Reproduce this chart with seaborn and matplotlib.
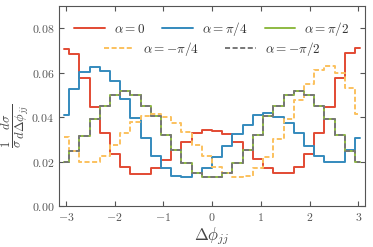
import numpy as np
import matplotlib
matplotlib.use('Agg')
import matplotlib.pyplot as plt
import seaborn as sns

# bin layout: 30 bins over [-pi, pi]
n_bins = 30
edges = np.linspace(-np.pi, np.pi, n_bins + 1)
centers = 0.5 * (edges[:-1] + edges[1:])

# normalised distributions
alpha_0 = [0.0708, 0.0686, 0.0576, 0.0445, 0.0328, 0.0235, 0.0177, 0.0144, 0.0144, 0.0170,
           0.0207, 0.0252, 0.0290, 0.0327, 0.0342, 0.0337, 0.0324, 0.0290, 0.0252, 0.0210,
           0.0170, 0.0150, 0.0148, 0.0177, 0.0233, 0.0328, 0.0444, 0.0576, 0.0689, 0.0711]
alpha_pi4 = [0.0408, 0.0526, 0.0602, 0.0624, 0.0606, 0.0561, 0.0483, 0.0396, 0.0305, 0.0226,
             0.0170, 0.0137, 0.0129, 0.0150, 0.0172, 0.0222, 0.0272, 0.0325, 0.0365, 0.0410,
             0.0420, 0.0400, 0.0375, 0.0328, 0.0272, 0.0225, 0.0197, 0.0197, 0.0250, 0.0307]
alpha_pi2 = [0.0196, 0.0248, 0.0316, 0.0393, 0.0451, 0.0498, 0.0516, 0.0500, 0.0451, 0.0403,
             0.0320, 0.0250, 0.0195, 0.0147, 0.0130, 0.0130, 0.0147, 0.0195, 0.0252, 0.0320,
             0.0403, 0.0451, 0.0500, 0.0516, 0.0500, 0.0451, 0.0393, 0.0320, 0.0248, 0.0196]
alpha_mpi4 = [0.0310, 0.0248, 0.0196, 0.0196, 0.0226, 0.0275, 0.0328, 0.0376, 0.0403, 0.0414,
              0.0399, 0.0373, 0.0335, 0.0273, 0.0225, 0.0175, 0.0147, 0.0130, 0.0137, 0.0170,
              0.0222, 0.0303, 0.0390, 0.0478, 0.0549, 0.0610, 0.0629, 0.0599, 0.0531, 0.0412]
alpha_mpi2 = [0.0196, 0.0248, 0.0316, 0.0393, 0.0451, 0.0498, 0.0516, 0.0500, 0.0451, 0.0403,
              0.0320, 0.0250, 0.0195, 0.0147, 0.0130, 0.0130, 0.0147, 0.0195, 0.0252, 0.0320,
              0.0403, 0.0451, 0.0500, 0.0516, 0.0500, 0.0451, 0.0393, 0.0320, 0.0248, 0.0196]

x_ticks = [-3, -2, -1, 0, 1, 2, 3]
y_ticks = [0.00, 0.02, 0.04, 0.06, 0.08]

sns.set_style('ticks')
plt.rcParams['font.family'] = 'serif'
plt.rcParams['font.serif'] = ['cmr10', 'DejaVu Serif']
plt.rcParams['mathtext.fontset'] = 'cm'
plt.rcParams['axes.formatter.use_mathtext'] = True

fig, ax = plt.subplots(figsize=(3.73, 2.47), dpi=100)
fig.subplots_adjust(left=0.158, right=0.979, bottom=0.166, top=0.976)

lw = 1.4
dash = (0, (2.6, 1.3))
sns.lineplot(x=centers, y=alpha_0, drawstyle='steps-mid', color='#E24A33', lw=lw,
             label=r'$\alpha=0$', ax=ax)
sns.lineplot(x=centers, y=alpha_pi4, drawstyle='steps-mid', color='#348ABD', lw=lw,
             label=r'$\alpha=\pi/4$', ax=ax)
sns.lineplot(x=centers, y=alpha_pi2, drawstyle='steps-mid', color='#8EBA42', lw=lw,
             label=r'$\alpha=\pi/2$', ax=ax)
sns.lineplot(x=centers, y=alpha_mpi4, drawstyle='steps-mid', color='#FBC15E', lw=lw,
             linestyle=dash, label=r'$\alpha=-\pi/4$', ax=ax)
sns.lineplot(x=centers, y=alpha_mpi2, drawstyle='steps-mid', color='#777777', lw=lw,
             linestyle=dash, label=r'$\alpha=-\pi/2$', ax=ax)

handles, labels = ax.get_legend_handles_labels()
ax.get_legend().remove()
leg1 = ax.legend(handles[:3], labels[:3], ncol=3, loc='center', bbox_to_anchor=(0.5, 0.885),
                 frameon=False, fontsize=9.5, handlelength=2.3, handletextpad=0.7,
                 columnspacing=1.3, labelcolor='#333333')
ax.add_artist(leg1)
ax.legend(handles[3:], labels[3:], ncol=2, loc='center', bbox_to_anchor=(0.5, 0.785),
          frameon=False, fontsize=9.5, handlelength=2.3, handletextpad=0.7,
          columnspacing=2.0, labelcolor='#333333')

ax.set_xlim(-np.pi, np.pi)
ax.set_ylim(0, 0.09)
ax.set_xticks(x_ticks)
ax.set_yticks(y_ticks)
ax.tick_params(direction='in', top=True, right=True, length=3.5, width=0.8,
               colors='#555555', labelsize=8.5)
for s in ax.spines.values():
    s.set_color('#555555')
    s.set_linewidth(0.8)

ax.set_xlabel(r'$\Delta\phi_{jj}$', fontsize=12, color='#444444', labelpad=2)
ax.set_ylabel(r'$\frac{1}{\sigma}\frac{d\sigma}{d\Delta\phi_{jj}}$', fontsize=13,
              color='#444444')
ax.yaxis.set_label_coords(-0.088, 0.4)

fig.savefig('out.png', dpi=100)
